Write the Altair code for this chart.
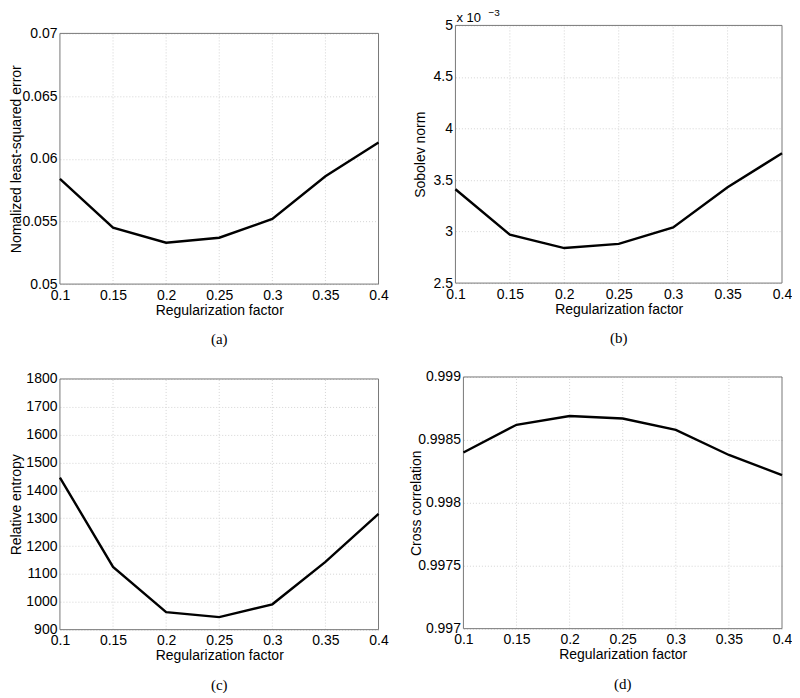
import altair as alt
import pandas as pd

# ---- data ----
reg_factor = [0.1, 0.15, 0.2, 0.25, 0.3, 0.35, 0.4]
nlse = [0.0584, 0.0545, 0.0533, 0.0537, 0.0552, 0.0586, 0.0613]
sobolev = [0.00341, 0.00297, 0.00284, 0.00288, 0.00304, 0.00343, 0.00376]
rel_entropy = [1446, 1125, 963, 945, 991, 1143, 1316]
cross_corr = [0.99840, 0.99862, 0.99869, 0.99867, 0.99858, 0.99838, 0.99822]

x_ticks = [0.1, 0.15, 0.2, 0.25, 0.3, 0.35, 0.4]
x_domain = [0.1, 0.4]
a_ticks = [0.05, 0.055, 0.06, 0.065, 0.07]
b_ticks = [0.0025, 0.003, 0.0035, 0.004, 0.0045, 0.005]
c_ticks = [900, 1000, 1100, 1200, 1300, 1400, 1500, 1600, 1700, 1800]
d_ticks = [0.997, 0.9975, 0.998, 0.9985, 0.999]

FONT = "Liberation Sans"
SERIF = "Liberation Serif"
GRID = "#d4d4d4"
FRAME = "#777777"


def panel(values, ylabel, yticks, ydomain, caption, width, height, top,
          yext, ytitlepad, yfmt="~g", ylabel_expr=None, exponent=False):
    xs = alt.Scale(domain=x_domain, nice=False, zero=False)
    ys = alt.Scale(domain=ydomain, nice=False, zero=False, range=[height, top])
    xaxis = alt.Axis(values=x_ticks, format="~g", title="Regularization factor",
                     grid=False, ticks=False, labelPadding=4, titlePadding=1,
                     labelFont=FONT, labelFontSize=14, labelColor="#000",
                     titleFont=FONT, titleFontSize=14, titleFontWeight="normal",
                     titleColor="#000", domain=False, labelFlush=False,
                     labelOverlap=False)
    yaxis_kw = dict(
        values=yticks, format=yfmt, title=ylabel, grid=True, ticks=False,
        labelPadding=3, minExtent=yext, maxExtent=yext, titlePadding=ytitlepad,
        labelFont=FONT, labelFontSize=14, labelColor="#000",
        titleFont=FONT, titleFontSize=14, titleFontWeight="normal", titleColor="#000",
        gridColor=GRID, gridDash=[1, 2], domain=False, labelOverlap=False,
        labelFlush=False,
    )
    if ylabel_expr:
        yaxis_kw["labelExpr"] = ylabel_expr
    yaxis = alt.Axis(**yaxis_kw)

    df = pd.DataFrame({"x": reg_factor, "y": values})
    grid_df = pd.DataFrame({"x": x_ticks[1:-1],
                            "y": [ydomain[0]] * (len(x_ticks) - 2),
                            "y2": [ydomain[1]] * (len(x_ticks) - 2)})
    frame_df = pd.DataFrame({"x": [x_domain[0]], "x2": [x_domain[1]],
                             "y": [ydomain[0]], "y2": [ydomain[1]]})

    grid = alt.Chart(grid_df).mark_rule(color=GRID, strokeDash=[1, 2], strokeWidth=1).encode(
        x=alt.X("x:Q", scale=xs, axis=xaxis),
        y=alt.Y("y:Q", scale=ys, axis=yaxis),
        y2="y2:Q",
    )
    frame = alt.Chart(frame_df).mark_rect(fillOpacity=0, stroke=FRAME, strokeWidth=1).encode(
        x=alt.X("x:Q", scale=xs, axis=xaxis),
        x2="x2:Q",
        y=alt.Y("y:Q", scale=ys, axis=yaxis),
        y2="y2:Q",
    )
    line = alt.Chart(df).mark_line(color="black", strokeWidth=2.4).encode(
        x=alt.X("x:Q", scale=xs, axis=xaxis),
        y=alt.Y("y:Q", scale=ys, axis=yaxis),
    )
    layers = [grid, frame, line]
    if exponent:
        lab = pd.DataFrame({"t": ["x 10"]})
        sup = pd.DataFrame({"t": ["\u22123"]})
        layers.append(alt.Chart(lab).mark_text(
            align="left", baseline="alphabetic", font=FONT, fontSize=13, color="#000"
        ).encode(text="t:N", x=alt.value(1), y=alt.value(top - 3)))
        layers.append(alt.Chart(sup).mark_text(
            align="left", baseline="alphabetic", font=FONT, fontSize=10, color="#000"
        ).encode(text="t:N", x=alt.value(33), y=alt.value(top - 9)))
    ch = alt.layer(*layers).properties(
        width=width, height=height,
        title=alt.Title(caption, orient="bottom", anchor="middle", font=SERIF,
                        fontSize=15, fontWeight="normal", color="#000", offset=15),
    )
    return ch


A = panel(nlse, "Nomalized least-squared error", a_ticks, [0.05, 0.07], "(a)",
          319, 259, 8, 35, 1)
B = panel(sobolev, "Sobolev norm", b_ticks, [0.0025, 0.005], "(b)",
          327, 258, 0, 24, 4, ylabel_expr="format(datum.value*1000, '~g')", exponent=True)
C = panel(rel_entropy, "Relative entropy", c_ticks, [900, 1800], "(c)",
          319, 253, 2, 34, 2, yfmt="d")
D = panel(cross_corr, "Cross correlation", d_ticks, [0.997, 0.999], "(d)",
          319, 252, 0, 37, 3)

row1 = alt.hconcat(A, B, spacing=77, bounds="flush")
row2 = alt.hconcat(C, D, spacing=85, bounds="flush")
chart = alt.vconcat(row1, row2, spacing=23).properties(
    padding={"left": 2, "top": 0, "right": 0, "bottom": 0}
).configure_view(
    strokeWidth=0
)

chart.save("out.html", embed_options={"renderer": "svg", "actions": False})
